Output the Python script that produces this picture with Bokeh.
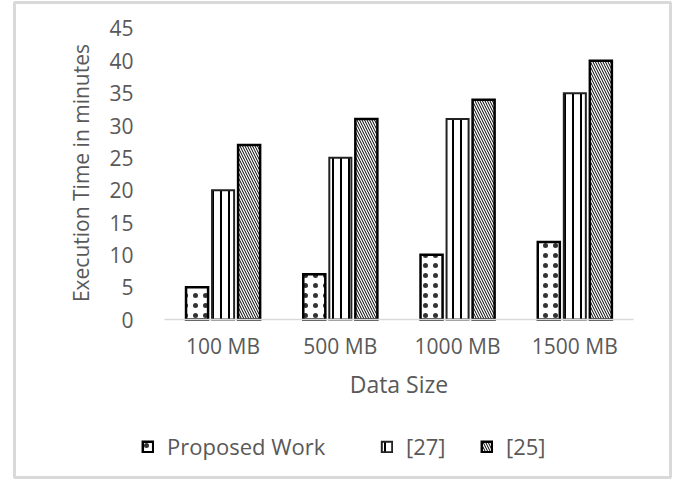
import math
from bokeh.plotting import figure
from bokeh.models import ColumnDataSource, Legend, LegendItem, Range1d, FixedTicker, Label
from bokeh.transform import dodge
from bokeh.embed import file_html
from bokeh.resources import INLINE

# ---- data ----
sizes = ["100 MB", "500 MB", "1000 MB", "1500 MB"]
proposed = [5, 7, 10, 12]
ref27 = [20, 25, 31, 35]
ref25 = [27, 31, 34, 40]
y_ticks = [0, 5, 10, 15, 20, 25, 30, 35, 40, 45]
series_labels = ["Proposed Work", "[27]", "[25]"]
x_title = "Data Size"
y_title = "Execution Time in minutes"

xs = list(range(1, len(sizes) + 1))
src = ColumnDataSource(dict(x=xs, size=sizes, proposed=proposed, r27=ref27, r25=ref25))

FONT = "Open Sans"
GRAY = "#595959"

# frame covers the whole bordered chart area; axes sit inside it
p = figure(width=675, height=481,
           x_range=Range1d(-0.779, 4.816),
           y_range=Range1d(-24.43, 49.02),
           output_backend="svg", toolbar_location=None,
           min_border_left=14, min_border_right=5,
           min_border_top=2, min_border_bottom=4)
p.outline_line_color = "#d9d9d9"
p.outline_line_width = 3
p.xgrid.visible = False
p.ygrid.visible = False

W = 0.188
STEP = 0.222
r1 = p.vbar(x=dodge("x", -STEP), top="proposed", width=W, source=src,
            fill_color="white", line_color="black", line_width=2.5, line_join="miter",
            hatch_pattern="dot", hatch_scale=10, hatch_alpha=0.8, hatch_color="black")
r2 = p.vbar(x=dodge("x", 0), top="r27", width=W, source=src,
            fill_color="white", line_color="#222222", line_width=2, line_join="miter",
            hatch_pattern="vertical_line", hatch_scale=8, hatch_weight=2.0, hatch_color="black")
r3 = p.vbar(x=dodge("x", STEP), top="r25", width=W, source=src,
            fill_color="white", line_color="black", line_width=2.5, line_join="miter",
            hatch_pattern="left_diagonal_line", hatch_scale=5, hatch_weight=1.0, hatch_color="black")

# x axis (inside the frame, at y = 0)
xa = p.xaxis[0]
xa.fixed_location = 0
xa.bounds = (0.5, 4.5)
xa.ticker = FixedTicker(ticks=xs)
xa.major_label_overrides = {x: s for x, s in zip(xs, sizes)}
xa.axis_line_color = "#d9d9d9"
xa.axis_line_width = 1.5
xa.major_tick_line_color = None
xa.minor_tick_line_color = None
xa.major_label_text_font = FONT
xa.major_label_text_font_size = "21px"
xa.major_label_text_color = GRAY
xa.major_label_standoff = 6

# y axis (inside the frame, at left edge of the category area)
ya = p.yaxis[0]
ya.fixed_location = 0.5
ya.ticker = FixedTicker(ticks=y_ticks)
ya.axis_line_color = None
ya.major_tick_line_color = None
ya.minor_tick_line_color = None
ya.major_label_text_font = FONT
ya.major_label_text_font_size = "21px"
ya.major_label_text_color = GRAY
ya.major_label_standoff = 25

# axis titles
p.add_layout(Label(x=2.5, y=-9.9, text=x_title, text_align="center", text_baseline="middle",
                   text_font=FONT, text_font_size="23px", text_color=GRAY))
p.add_layout(Label(x=-0.216, y=22.65, text=y_title, angle=math.pi / 2,
                   text_align="center", text_baseline="middle",
                   text_font=FONT, text_font_size="21px", text_color=GRAY))

# legends (one per item, positioned individually)
for r, lab, x in zip([r1, r2, r3], series_labels, [127, 366, 466]):
    lg = Legend(items=[LegendItem(label=lab, renderers=[r])], location=(x, 16),
                orientation="horizontal", border_line_color=None,
                background_fill_alpha=0, padding=0, margin=0, spacing=0,
                glyph_width=13, glyph_height=13, label_height=13, label_standoff=13,
                label_text_font=FONT, label_text_font_size="22px",
                label_text_color=GRAY)
    p.add_layout(lg)

open("out.html", "w").write(file_html(p, INLINE))
